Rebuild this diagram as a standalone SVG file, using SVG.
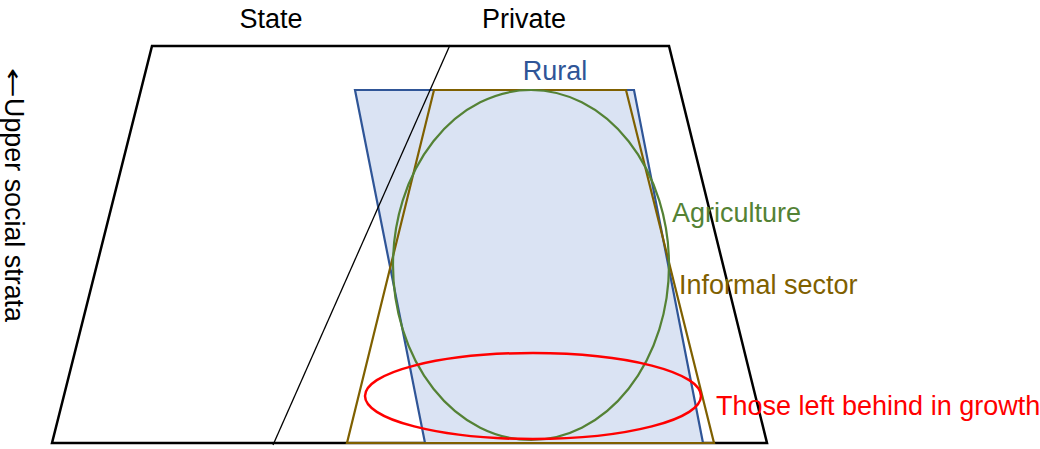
<svg xmlns="http://www.w3.org/2000/svg" width="1040" height="449" viewBox="0 0 1040 449">
<style>
text{font-family:"Liberation Sans",Arial,sans-serif;font-size:27px}
.blk{fill:none;stroke:#000}
</style>
<rect width="1040" height="449" fill="#fff"/>
<g id="frame"><polygon class="blk" stroke-width="2.5" points="152,46 669,46 767,443 52,443"/></g>
<g id="rural"><polygon points="355,90 634,90 703,443 425,443" fill="#dae3f3" stroke="#2f5597" stroke-width="2.2"/></g>
<g id="informal"><polygon points="434,90 626,90 714,443 347,443" fill="none" stroke="#7f6000" stroke-width="2.2"/></g>
<g id="agriculture"><ellipse cx="531" cy="265" rx="138" ry="175" fill="none" stroke="#548235" stroke-width="2.2"/></g>
<g id="connectors"><line class="blk" stroke-width="1.3" x1="450" y1="45" x2="273" y2="445"/></g>
<g id="left-behind"><ellipse cx="533" cy="396" rx="168" ry="43" fill="none" stroke="#ff0000" stroke-width="2.5"/></g>
<g id="labels">
<text x="271" y="28" text-anchor="middle" font-size="26">State</text>
<text x="524" y="28" text-anchor="middle" font-size="26">Private</text>
<text x="555" y="80" text-anchor="middle" fill="#2f5597">Rural</text>
<text x="672" y="222" fill="#548235">Agriculture</text>
<text x="679" y="294" fill="#7f6000">Informal sector</text>
<text x="716" y="415" fill="#ff0000">Those left behind in growth</text>
<g id="axis-label" transform="translate(5,0) rotate(90)">
<text x="68" y="0" textLength="30" lengthAdjust="spacingAndGlyphs" style="font-family:'DejaVu Sans',sans-serif;font-size:24px">←</text>
<text x="98" y="0" textLength="224" lengthAdjust="spacingAndGlyphs">Upper social strata</text>
</g>
</g>
</svg>
